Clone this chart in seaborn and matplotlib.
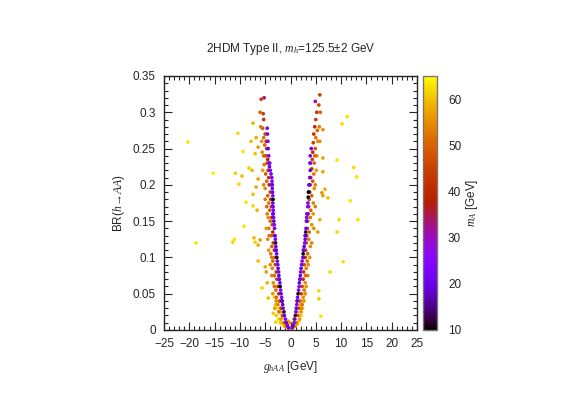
import matplotlib
matplotlib.use("Agg")
import matplotlib.pyplot as plt
import matplotlib as mpl
import seaborn as sns
import pandas as pd
from matplotlib.ticker import MultipleLocator

# points: (BR, g_hAA, m_A)
left_inner = [
    (0.003, -0.4, 20), (0.006, -0.6, 22), (0.01, -0.85, 18), (0.015, -1.0, 24), (0.02, -1.2, 20),
    (0.025, -1.3, 12), (0.03, -1.45, 22), (0.035, -1.55, 19), (0.04, -1.65, 11), (0.045, -1.75, 23),
    (0.05, -1.85, 20), (0.055, -1.95, 24), (0.06, -2.05, 10), (0.065, -2.1, 21), (0.07, -2.2, 25),
    (0.075, -2.3, 19), (0.08, -2.35, 22), (0.085, -2.45, 18), (0.09, -2.5, 23), (0.095, -2.6, 20),
    (0.1, -2.7, 11), (0.105, -2.75, 22), (0.11, -2.8, 24), (0.115, -2.9, 19), (0.12, -2.95, 12),
    (0.125, -3.0, 21), (0.13, -3.05, 23), (0.14, -3.15, 20), (0.145, -3.2, 25), (0.15, -3.3, 18),
    (0.155, -3.35, 22), (0.16, -3.4, 20), (0.165, -3.4, 24), (0.17, -3.45, 21), (0.175, -3.5, 19),
    (0.18, -3.45, 10), (0.185, -3.5, 23), (0.19, -3.55, 20), (0.195, -3.6, 22), (0.2, -3.6, 18),
    (0.205, -3.65, 24), (0.21, -3.7, 21), (0.215, -3.85, 20), (0.22, -4.0, 23), (0.225, -4.15, 19),
    (0.23, -4.2, 22), (0.24, -4.3, 24), (0.25, -4.4, 20), (0.26, -4.45, 23), (0.27, -4.55, 21),
    (0.278, -4.6, 25),
    (0.11, -2.9, 20), (0.13, -3.15, 19), (0.17, -3.55, 22), (0.2, -3.7, 20), (0.23, -4.1, 23),
    (0.07, -2.25, 21), (0.04, -1.7, 19), (0.16, -3.5, 21),
]

right_inner = [
    (0.003, 0.35, 21), (0.006, 0.5, 18), (0.01, 0.7, 23), (0.015, 0.85, 20), (0.02, 0.95, 12),
    (0.025, 1.05, 22), (0.03, 1.15, 19), (0.035, 1.25, 24), (0.04, 1.3, 20), (0.045, 1.4, 22),
    (0.05, 1.5, 11), (0.055, 1.6, 21), (0.06, 1.7, 23), (0.065, 1.75, 19), (0.07, 1.85, 22),
    (0.075, 1.95, 20), (0.08, 2.0, 24), (0.085, 2.1, 18), (0.09, 2.2, 21), (0.095, 2.3, 23),
    (0.1, 2.45, 20), (0.105, 2.5, 10), (0.11, 2.6, 22), (0.115, 2.7, 19), (0.12, 2.8, 24),
    (0.125, 2.9, 21), (0.13, 2.95, 20), (0.135, 3.0, 12), (0.14, 3.05, 23), (0.15, 3.15, 19),
    (0.155, 3.2, 22), (0.16, 3.3, 20), (0.17, 3.4, 24), (0.175, 3.45, 21), (0.183, 3.5, 10),
    (0.19, 3.6, 23), (0.2, 3.7, 20), (0.21, 3.8, 22), (0.22, 3.9, 19), (0.23, 3.95, 24),
    (0.24, 3.9, 21), (0.25, 4.1, 20),
    (0.11, 2.55, 20), (0.13, 2.9, 19), (0.16, 3.25, 22), (0.2, 3.65, 21), (0.23, 3.85, 23),
    (0.07, 1.9, 21), (0.04, 1.35, 19), (0.19, 3.55, 10),
]

left_band = [
    (0.318, -5.8, 45), (0.32, -5.2, 33), (0.298, -5.4, 44), (0.29, -5.3, 42), (0.278, -5.5, 48),
    (0.27, -5.0, 46), (0.265, -5.3, 52), (0.26, -4.8, 40), (0.255, -5.1, 50), (0.25, -4.7, 42),
    (0.245, -5.6, 55), (0.24, -4.9, 45), (0.235, -4.5, 38), (0.23, -4.6, 44), (0.228, -5.2, 52),
    (0.22, -4.4, 40), (0.215, -4.9, 48), (0.21, -4.3, 42), (0.205, -4.7, 50), (0.2, -4.2, 38),
    (0.195, -5.0, 55), (0.19, -4.0, 44), (0.185, -4.5, 50), (0.18, -3.9, 40), (0.175, -4.3, 52),
    (0.17, -3.8, 46), (0.165, -4.1, 48), (0.16, -4.6, 54), (0.155, -3.7, 42), (0.15, -4.0, 50),
    (0.145, -3.6, 45), (0.14, -4.3, 52), (0.135, -3.5, 40), (0.13, -3.8, 48), (0.125, -4.5, 55),
    (0.12, -3.4, 44), (0.115, -3.7, 50), (0.11, -3.2, 42), (0.105, -3.9, 52), (0.1, -3.1, 46),
    (0.095, -3.5, 50), (0.09, -3.0, 44), (0.085, -3.6, 54), (0.08, -2.8, 42), (0.075, -3.2, 50),
    (0.07, -2.7, 46), (0.065, -3.4, 55), (0.06, -2.5, 44), (0.055, -2.9, 52), (0.05, -2.3, 40),
    (0.045, -2.8, 50), (0.04, -2.1, 46), (0.035, -2.5, 54), (0.03, -1.9, 44), (0.025, -2.3, 52),
    (0.02, -1.6, 48), (0.015, -1.9, 56), (0.01, -1.3, 50), (0.005, -1.0, 55),
    (0.3, -6.0, 50), (0.28, -5.9, 53), (0.26, -5.7, 55), (0.24, -5.3, 50), (0.22, -5.5, 56),
    (0.2, -5.3, 54), (0.18, -5.0, 53), (0.17, -4.7, 50), (0.155, -4.4, 55), (0.14, -4.8, 56),
    (0.13, -4.2, 52), (0.11, -4.3, 56), (0.1, -3.7, 53), (0.09, -4.0, 55), (0.075, -3.7, 54),
    (0.06, -3.2, 52), (0.05, -3.5, 56), (0.04, -2.8, 54), (0.03, -3.1, 56),
]

right_band = [
    (0.324, 5.8, 44), (0.315, 4.9, 32), (0.30, 5.2, 42), (0.31, 5.6, 46), (0.29, 5.0, 44),
    (0.28, 4.8, 40), (0.275, 5.3, 50), (0.27, 4.6, 42), (0.265, 5.0, 52), (0.258, 4.5, 44),
    (0.25, 4.9, 48), (0.245, 4.4, 40), (0.24, 5.2, 55), (0.235, 4.3, 44), (0.23, 4.7, 50),
    (0.222, 4.2, 42), (0.215, 4.6, 52), (0.21, 4.0, 40), (0.205, 4.4, 48), (0.2, 3.9, 44),
    (0.195, 4.7, 55), (0.19, 3.8, 42), (0.185, 4.2, 50), (0.18, 3.7, 46), (0.175, 4.5, 54),
    (0.17, 3.6, 44), (0.165, 4.0, 50), (0.16, 3.5, 42), (0.155, 3.9, 52), (0.15, 3.4, 46),
    (0.145, 4.2, 55), (0.14, 3.3, 44), (0.135, 3.7, 50), (0.13, 3.2, 42), (0.125, 3.6, 52),
    (0.12, 3.1, 46), (0.115, 3.9, 55), (0.11, 3.0, 44), (0.105, 3.4, 50), (0.1, 2.9, 42),
    (0.095, 3.3, 52), (0.09, 2.7, 46), (0.085, 3.1, 54), (0.08, 2.6, 44), (0.075, 3.0, 50),
    (0.07, 2.5, 42), (0.065, 2.9, 55), (0.06, 2.3, 46), (0.055, 2.7, 52), (0.05, 2.1, 44),
    (0.045, 2.5, 55), (0.04, 1.9, 48), (0.035, 2.3, 52), (0.03, 1.7, 46), (0.025, 2.1, 55),
    (0.02, 1.5, 50), (0.015, 1.8, 56), (0.01, 1.2, 52), (0.005, 0.9, 55),
    (0.3, 5.9, 50), (0.28, 5.7, 53), (0.26, 5.4, 55), (0.24, 4.8, 50), (0.22, 5.1, 56),
    (0.2, 4.9, 54), (0.17, 4.9, 53), (0.16, 4.5, 56), (0.14, 4.6, 55), (0.12, 4.2, 54),
    (0.1, 3.8, 56), (0.09, 3.5, 55), (0.075, 3.4, 53), (0.06, 3.1, 56), (0.05, 2.9, 55),
    (0.04, 2.6, 56), (0.03, 2.2, 54),
]

bottom_cloud = [
    (0.002, -0.3, 60), (0.004, -0.8, 62), (0.006, -1.2, 58), (0.008, -1.6, 63), (0.01, -2.0, 60),
    (0.012, -0.5, 57), (0.015, -2.4, 62), (0.018, -1.5, 59), (0.02, -2.8, 61), (0.025, -2.0, 58),
    (0.03, -2.6, 63), (0.035, -3.0, 60), (0.04, -2.2, 57), (0.045, -3.2, 62), (0.002, 0.3, 60),
    (0.005, 0.8, 62), (0.008, 1.3, 59), (0.012, 1.7, 63), (0.015, 0.6, 58), (0.02, 2.1, 61),
    (0.025, 1.3, 57), (0.03, 2.4, 62), (0.035, 1.9, 60), (0.04, 2.7, 63), (0.05, 2.9, 59),
    (0.01, -0.2, 56), (0.004, 0.1, 58),
]

outliers = [
    (0.259, -20.3, 63), (0.216, -15.3, 64), (0.12, -18.7, 63), (0.121, -11.4, 62), (0.125, -11.1, 63),
    (0.143, -9.2, 63), (0.271, -10.4, 62), (0.246, -9.4, 63), (0.216, -10.9, 61), (0.212, -9.6, 60),
    (0.201, -10.2, 62), (0.176, -8.8, 63), (0.26, -7.8, 60), (0.285, -7.4, 59), (0.265, -6.8, 58),
    (0.252, -6.4, 57), (0.243, -7.0, 60), (0.223, -8.2, 61), (0.22, -7.6, 59), (0.187, -7.4, 60),
    (0.197, -6.8, 58), (0.208, -6.4, 57), (0.171, -7.4, 62), (0.165, -6.6, 59), (0.121, -7.0, 61),
    (0.127, -7.2, 60), (0.117, -6.4, 58), (0.124, -6.0, 57), (0.095, -6.4, 60), (0.087, -5.0, 58),
    (0.08, -4.8, 57), (0.065, -4.6, 59), (0.058, -5.6, 62), (0.044, -4.4, 60), (0.023, -3.4, 61),
    (0.011, -2.9, 62),
    (0.294, 11.2, 63), (0.284, 10.2, 62), (0.276, 6.4, 56), (0.234, 9.2, 63), (0.224, 12.5, 62),
    (0.211, 13.1, 63), (0.237, 6.4, 57), (0.218, 6.4, 58), (0.26, 5.8, 55), (0.178, 11.8, 63),
    (0.182, 7.4, 60), (0.194, 6.8, 58), (0.185, 6.4, 57), (0.189, 6.2, 56), (0.152, 9.6, 62),
    (0.152, 13.3, 63), (0.135, 9.2, 62), (0.094, 10.4, 63), (0.08, 7.8, 62), (0.152, 5.8, 58),
    (0.135, 5.4, 57), (0.054, 5.6, 62), (0.043, 5.6, 61), (0.019, 6.0, 63),
]

rows = outliers + bottom_cloud + left_band + right_band + left_inner + right_inner
df = pd.DataFrame(rows, columns=["br", "g", "mA"])

sns.set_style("ticks")
plt.rcParams["font.family"] = ["Liberation Sans", "DejaVu Sans"]
plt.rcParams["mathtext.fontset"] = "custom"
plt.rcParams["mathtext.it"] = "Liberation Serif:italic"
plt.rcParams["mathtext.rm"] = "Liberation Serif"
plt.rcParams["font.size"] = 8.5

fig = plt.figure(figsize=(5.81, 4.07), dpi=100)
ax = fig.add_axes([0.2823, 0.1892, 0.4354, 0.6241])
cax = fig.add_axes([0.728, 0.1892, 0.024, 0.6241])

norm = mpl.colors.Normalize(10, 65)
sns.scatterplot(data=df, x="g", y="br", hue="mA", palette="gnuplot", hue_norm=norm,
                s=7, marker="o", linewidth=0, legend=False, ax=ax)

ax.set_xlim(-25, 25)
ax.set_ylim(0, 0.35)
ax.xaxis.set_major_locator(MultipleLocator(5))
ax.xaxis.set_minor_locator(MultipleLocator(1))
ax.yaxis.set_minor_locator(MultipleLocator(0.01))
ax.set_yticks([0, 0.05, 0.1, 0.15, 0.2, 0.25, 0.3, 0.35])
ax.set_yticklabels(["0", "0.05", "0.1", "0.15", "0.2", "0.25", "0.3", "0.35"])
ax.tick_params(which="both", direction="in", top=True, right=True, width=0.8, pad=6)
ax.tick_params(which="major", length=6)
ax.tick_params(which="minor", length=3)
for sp in ax.spines.values():
    sp.set_linewidth(1.0)

ax.set_xlabel(r"$g_{hAA}$ [GeV]", labelpad=6)
ax.set_ylabel(r"BR($h\!\rightarrow\!AA$)", labelpad=4)
ax.set_title(r"2HDM Type II, $m_h$=125.5±2 GeV", fontsize=8.5, pad=17)

sm = mpl.cm.ScalarMappable(norm=norm, cmap="gnuplot")
cb = fig.colorbar(sm, cax=cax)
cb.set_ticks([10, 20, 30, 40, 50, 60])
cb.outline.set_edgecolor("#777777")
cb.outline.set_linewidth(1.0)
cax.tick_params(direction="in", left=True, right=True, length=5, width=0.8, pad=8)
cb.set_label(r"$m_A$ [GeV]", labelpad=2)

fig.savefig("out.png", dpi=100)
